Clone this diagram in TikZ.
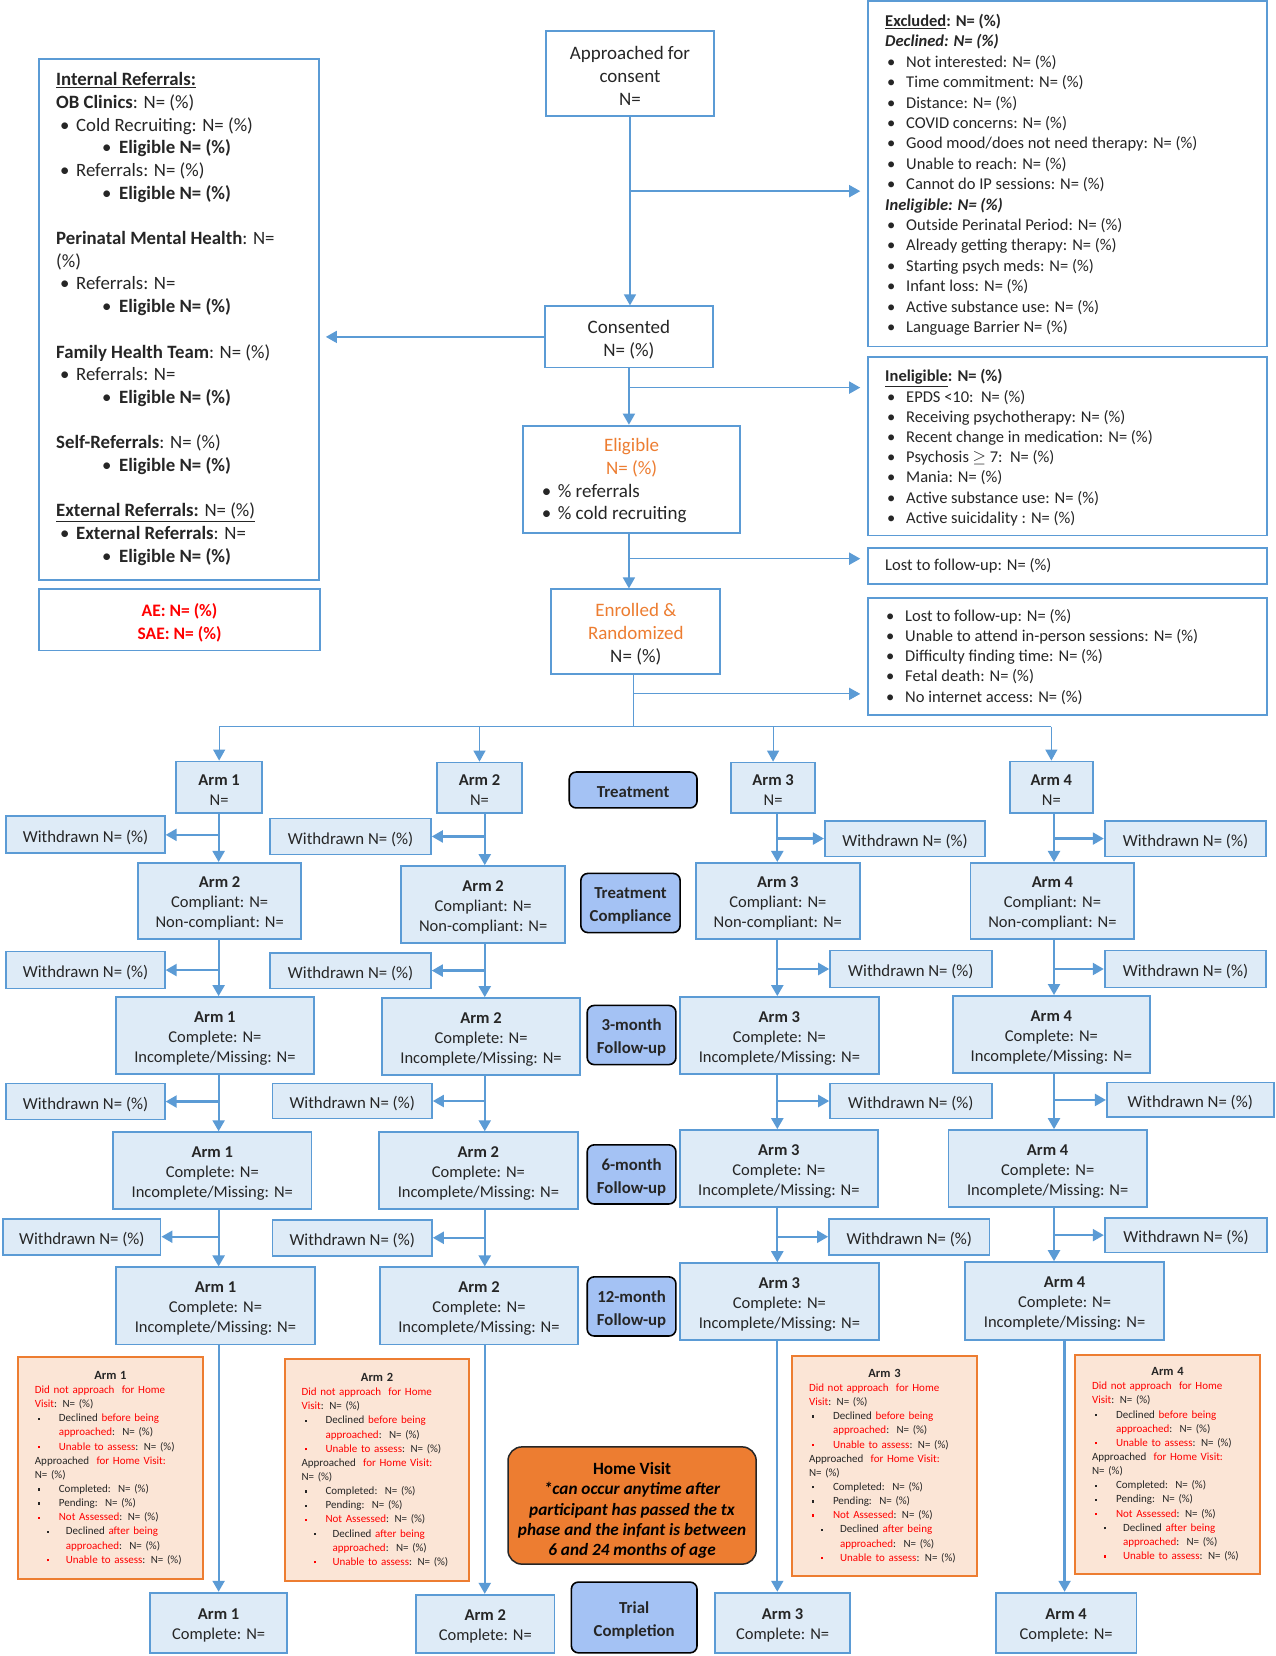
\documentclass[tikz,border=0pt]{standalone}
\usepackage{fontspec}
\setmainfont{Carlito}
\usetikzlibrary{arrows.meta,fit,calc}
\definecolor{bl}{HTML}{5B9BD5}
\definecolor{lbl}{HTML}{DEEBF7}
\definecolor{phase}{HTML}{A4C2F4}
\definecolor{org}{HTML}{ED7D31}
\definecolor{orgfill}{HTML}{FBE5D6}
\definecolor{rd}{HTML}{FF0000}
\definecolor{txt}{HTML}{262626}
\definecolor{hvfill}{HTML}{ED7D31}

\newcommand{\rbul}{\hspace*{2pt}\makebox[19pt][l]{\textbullet}}
\newcommand{\rbulb}{\hspace*{1pt}\makebox[19pt][l]{\textbullet}}
\newcommand{\lbul}{\hspace*{4pt}\makebox[16pt][l]{\textbullet}}
\newcommand{\llbul}{\hspace*{46pt}\makebox[17pt][l]{\textbullet}}
\newcommand{\sq}[1][txt]{\textcolor{#1}{\rule[2pt]{2.3pt}{2.3pt}}}
\newcommand{\hvA}{\hspace*{3pt}\makebox[21pt][l]}
\newcommand{\hvB}{\hspace*{12pt}\makebox[19pt][l]}
\newcommand{\hvcontent}[1]{%
\makebox[151pt][c]{\fontsize{12.5}{14}\selectfont\bfseries #1}\\
\textcolor{rd}{Did not approach\ \ for Home}\\
\textcolor{rd}{Visit}: N= (\%)\\
\hvA{\sq}Declined \textcolor{rd}{before being}\\
\hspace*{24pt}\textcolor{rd}{approached}:\ \ N= (\%)\\
\hvA{\sq[rd]}\textcolor{rd}{Unable to assess}: N= (\%)\\
Approached\ \ \textcolor{rd}{for Home Visit:}\\
N= (\%)\\
\hvA{\sq}Completed:\ \ N= (\%)\\
\hvA{\sq}Pending:\ \ N= (\%)\\
\hvA{\sq[rd]}\textcolor{rd}{Not Assessed}: N= (\%)\\
\hvB{\sq}Declined \textcolor{rd}{after being}\\
\hspace*{31pt}\textcolor{rd}{approached}:\ \ N= (\%)\\
\hvB{\sq[rd]}\textcolor{rd}{Unable to assess}: N= (\%)}

% box drawn by fit, text in a separate node at its centre
\newcommand{\tbox}[4]{%
  \node[#1, fit={#3}] (#2) {};
  \node[#1, draw=none, fill=none] (#2t) at ([yshift=-2.6pt]#2.center) {#4};}

\tikzset{
  box/.style={draw=bl, line width=1.8pt, fill=white, inner sep=0pt},
  armbox/.style={draw=bl, line width=1.8pt, fill=lbl, inner sep=0pt, align=center, text=txt, font=\fontsize{16.5}{20}\selectfont},
  wdbox/.style={armbox, font=\fontsize{16.8}{20}\selectfont},
  phasebox/.style={draw=black, line width=1.6pt, fill=phase, rounded corners=7pt, inner sep=0pt, align=center, text=txt, font=\bfseries\fontsize{16.8}{23}\selectfont},
  hvarm/.style={draw=org, line width=1.8pt, fill=orgfill, inner sep=0pt},
  hvtext/.style={text width=151pt, align=left, inner sep=0pt, text=txt, font=\fontsize{11}{14.15}\selectfont},
  hvbox/.style={draw=black!85, line width=1.5pt, fill=hvfill, rounded corners=14pt, inner sep=0pt, align=center, text=black, font=\fontsize{17.2}{20.2}\selectfont},
  listtext/.style={anchor=west, align=left, inner sep=0pt, text=txt, font=\fontsize{16.5}{20.4}\selectfont},
  maintext/.style={align=center, text=txt, font=\fontsize{19}{23}\selectfont},
  aebox/.style={box, align=center, text=rd, font=\bfseries\fontsize{17.5}{23}\selectfont},
  conn/.style={draw=bl, line width=2.2pt, -{Triangle[length=11pt,width=12pt]}},
  midconn/.style={draw=bl, line width=1.6pt, -{Triangle[length=11pt,width=12pt]}},
  thinconn/.style={draw=bl, line width=1.1pt, -{Triangle[length=11pt,width=12pt]}},
  thinline/.style={draw=bl, line width=1.1pt},
}

\begin{document}
\begin{tikzpicture}[x=1.0563pt,y=-1.0563pt]
\useasboundingbox[fill=white] (0,0) rectangle (1208,1568);

% ---------- top flow ----------
\tbox{box, maintext}{app}{(517,29)(676,110)}{Approached for\\consent\\N=}
\tbox{box, maintext}{cons}{(516,290)(675,348)}{Consented\\N= (\%)}
\node[box, fit={(495,403)(701,505)}] (elig) {};
\node[maintext, text=org, inner sep=0pt] (eligt) at (598,433) {Eligible\\N= (\%)};
\node[listtext, font=\fontsize{19}{22}\selectfont] (eligb) at (509,477) {\lbul\% referrals\\\lbul\% cold recruiting};
\tbox{box, maintext}{enr}{(522,558)(682,638)}{\textcolor{org}{Enrolled \&}\\\textcolor{org}{Randomized}\\N= (\%)}

% ---------- right boxes ----------
\node[box, fit={(822,1)(1200,328)}] (excl) {};
\node[listtext] (exclt) at (838,165.5) {%
\underline{\textbf{Excluded}}\textbf{: N= (\%)}\\
\textbf{\textit{Declined: N= (\%)}}\\
\rbul Not interested: N= (\%)\\
\rbul Time commitment: N= (\%)\\
\rbul Distance: N= (\%)\\
\rbul COVID concerns: N= (\%)\\
\rbul Good mood/does not need therapy: N= (\%)\\
\rbul Unable to reach: N= (\%)\\
\rbul Cannot do IP sessions: N= (\%)\\
\textbf{\textit{Ineligible: N= (\%)}}\\
\rbul Outside Perinatal Period: N= (\%)\\
\rbul Already getting therapy: N= (\%)\\
\rbul Starting psych meds: N= (\%)\\
\rbul Infant loss: N= (\%)\\
\rbul Active substance use: N= (\%)\\
\rbul Language Barrier N= (\%)};

\node[box, fit={(822,338)(1200,507)}] (inel) {};
\node[listtext, font=\fontsize{16.5}{20.2}\selectfont] (inelt) at (838,424) {%
\underline{\textbf{Ineligible}}\textbf{: N= (\%)}\\
\rbul EPDS <10:\ \ N= (\%)\\
\rbul Receiving psychotherapy: N= (\%)\\
\rbul Recent change in medication: N= (\%)\\
\rbul Psychosis $\geq$ 7:\ \ N= (\%)\\
\rbul Mania: N= (\%)\\
\rbul Active substance use: N= (\%)\\
\rbul Active suicidality : N= (\%)};

\node[box, fit={(822,519)(1200,553)}] (lost) {};
\node[listtext] (lostt) at (838,536) {Lost to follow-up: N= (\%)};

\node[box, fit={(822,566)(1200,677)}] (lostr) {};
\node[listtext, font=\fontsize{16.5}{20.1}\selectfont] (lostrt) at (838,622) {%
\rbulb Lost to follow-up: N= (\%)\\
\rbulb Unable to attend in-person sessions: N= (\%)\\
\rbulb Difficulty finding time: N= (\%)\\
\rbulb Fetal death: N= (\%)\\
\rbulb No internet access: N= (\%)};

% ---------- left boxes ----------
\node[box, fit={(37,56)(302,549)}] (intref) {};
\node[listtext, font=\fontsize{18.8}{22.7}\selectfont] (intreft) at (53,302) {%
\underline{\textbf{Internal Referrals:}}\\
\textbf{OB Clinics}: N= (\%)\\
\lbul Cold Recruiting: N= (\%)\\
\llbul\textbf{Eligible N= (\%)}\\
\lbul Referrals: N= (\%)\\
\llbul\textbf{Eligible N= (\%)}\\[22.7pt]
\textbf{Perinatal Mental Health}: N=\\
(\%)\\
\lbul Referrals: N=\\
\llbul\textbf{Eligible N= (\%)}\\[22.7pt]
\textbf{Family Health Team}: N= (\%)\\
\lbul Referrals: N=\\
\llbul\textbf{Eligible N= (\%)}\\[22.7pt]
\textbf{Self-Referrals}: N= (\%)\\
\llbul\textbf{Eligible N= (\%)}\\[22.7pt]
\underline{\textbf{External Referrals:} N= (\%)}\\
\lbul\textbf{External Referrals}: N=\\
\llbul\textbf{Eligible N= (\%)}};

\tbox{aebox}{ae}{(37,558)(303,616)}{AE: N= (\%)\\SAE: N= (\%)}

% ---------- top connectors ----------
\coordinate (b1) at (596,181);
\coordinate (b2) at (596,367);
\coordinate (b3) at (596,529);
\coordinate (b4) at (600,657);
\coordinate (d0) at (600,688);
\draw[midconn] (app.south) -- (app.south |- cons.north);
\draw[midconn, shorten >=7pt] (b1) -- (excl.west |- b1);
\draw[midconn, shorten >=6pt] (cons.west) -- (intref.east |- cons.west);
\draw[midconn] (cons.south) -- (cons.south |- elig.north);
\draw[midconn, shorten >=7pt] (b2) -- (inel.west |- b2);
\draw[midconn] (cons.south |- elig.south) -- (cons.south |- enr.north);
\draw[midconn, shorten >=7pt] (b3) -- (lost.west |- b3);
\draw[thinline] (enr.south -| d0) -- (d0);
\draw[thinconn, shorten >=7pt] (b4) -- (lostr.west |- b4);

% ---------- phase labels ----------
\tbox{phasebox}{ph0}{(539,731)(660,765)}{Treatment}
\tbox{phasebox}{ph1}{(550,827)(644,883)}{Treatment\\Compliance}
\tbox{phasebox}{ph2}{(556,952)(640,1008)}{3-month\\Follow-up}
\tbox{phasebox}{ph3}{(556,1084)(640,1140)}{6-month\\Follow-up}
\tbox{phasebox}{ph4}{(556,1209)(640,1265)}{12-month\\Follow-up}
\tbox{phasebox}{ph5}{(541,1498)(660,1565)}{Trial\\Completion}

\node[hvbox, fit={(481,1370)(716,1481)}] (hv) {};
\node[hvbox, draw=none, fill=none] (hvt) at ([yshift=-5pt]hv.center) {\textbf{Home Visit}\\\textbf{\textit{*can occur anytime after}}\\\textbf{\textit{participant has passed the tx}}\\\textbf{\textit{phase and the infant is between}}\\\textbf{\textit{6 and 24 months of age}}};

% ---------- column 1 ----------
\tbox{armbox}{A10}{(167,721)(248,770)}{\textbf{Arm 1}\\N=}
\tbox{wdbox}{w11}{(6,773)(156,808)}{Withdrawn N= (\%)}
\tbox{armbox}{A11}{(131,817)(285,889)}{\textbf{Arm 2}\\Compliant: N=\\Non-compliant: N=}
\tbox{wdbox}{w12}{(6,901)(156,936)}{Withdrawn N= (\%)}
\tbox{armbox}{A12}{(110,944)(297,1017)}{\textbf{Arm 1}\\Complete: N=\\Incomplete/Missing: N=}
\tbox{wdbox}{w13}{(6,1026)(156,1060)}{Withdrawn N= (\%)}
\tbox{armbox}{A13}{(107,1072)(295,1145)}{\textbf{Arm 1}\\Complete: N=\\Incomplete/Missing: N=}
\tbox{wdbox}{w14}{(3,1154)(152,1188)}{Withdrawn N= (\%)}
\tbox{armbox}{A14}{(110,1200)(298,1273)}{\textbf{Arm 1}\\Complete: N=\\Incomplete/Missing: N=}
\node[hvarm, fit={(17,1285)(192,1495)}] (o1) {};
\node[hvtext] (o1t) at (o1.center) {\hvcontent{Arm 1}};
\tbox{armbox}{A15}{(142,1508)(272,1565)}{\textbf{Arm 1}\\Complete: N=}

% ---------- column 2 ----------
\tbox{armbox}{A20}{(414,722)(494,770)}{\textbf{Arm 2}\\N=}
\tbox{wdbox}{w21}{(256,775)(408,809)}{Withdrawn N= (\%)}
\tbox{armbox}{A21}{(380,820)(535,893)}{\textbf{Arm 2}\\Compliant: N=\\Non-compliant: N=}
\tbox{wdbox}{w22}{(256,902)(408,936)}{Withdrawn N= (\%)}
\tbox{armbox}{A22}{(362,945)(549,1018)}{\textbf{Arm 2}\\Complete: N=\\Incomplete/Missing: N=}
\tbox{wdbox}{w23}{(258,1026)(409,1059)}{Withdrawn N= (\%)}
\tbox{armbox}{A23}{(359,1072)(547,1145)}{\textbf{Arm 2}\\Complete: N=\\Incomplete/Missing: N=}
\tbox{wdbox}{w24}{(258,1155)(409,1189)}{Withdrawn N= (\%)}
\tbox{armbox}{A24}{(360,1200)(547,1273)}{\textbf{Arm 2}\\Complete: N=\\Incomplete/Missing: N=}
\node[hvarm, fit={(270,1287)(444,1497)}] (o2) {};
\node[hvtext] (o2t) at (o2.center) {\hvcontent{Arm 2}};
\tbox{armbox}{A25}{(394,1510)(525,1565)}{\textbf{Arm 2}\\Complete: N=}

% ---------- column 3 ----------
\tbox{armbox}{A30}{(692,722)(772,770)}{\textbf{Arm 3}\\N=}
\tbox{wdbox}{w31}{(781,777)(933,811)}{Withdrawn N= (\%)}
\tbox{armbox}{A31}{(659,817)(814,889)}{\textbf{Arm 3}\\Compliant: N=\\Non-compliant: N=}
\tbox{wdbox}{w32}{(786,900)(939,935)}{Withdrawn N= (\%)}
\tbox{armbox}{A32}{(644,944)(832,1017)}{\textbf{Arm 3}\\Complete: N=\\Incomplete/Missing: N=}
\tbox{wdbox}{w33}{(786,1026)(939,1059)}{Withdrawn N= (\%)}
\tbox{armbox}{A33}{(644,1070)(831,1143)}{\textbf{Arm 3}\\Complete: N=\\Incomplete/Missing: N=}
\tbox{wdbox}{w34}{(785,1154)(937,1188)}{Withdrawn N= (\%)}
\tbox{armbox}{A34}{(644,1196)(832,1269)}{\textbf{Arm 3}\\Complete: N=\\Incomplete/Missing: N=}
\node[hvarm, fit={(750,1284)(925,1492)}] (o3) {};
\node[hvtext] (o3t) at (o3.center) {\hvcontent{Arm 3}};
\tbox{armbox}{A35}{(677,1508)(805,1565)}{\textbf{Arm 3}\\Complete: N=}

% ---------- column 4 ----------
\tbox{armbox}{A40}{(956,721)(1035,770)}{\textbf{Arm 4}\\N=}
\tbox{wdbox}{w41}{(1046,777)(1199,811)}{Withdrawn N= (\%)}
\tbox{armbox}{A41}{(919,817)(1074,889)}{\textbf{Arm 4}\\Compliant: N=\\Non-compliant: N=}
\tbox{wdbox}{w42}{(1046,900)(1199,935)}{Withdrawn N= (\%)}
\tbox{armbox}{A42}{(902,943)(1089,1016)}{\textbf{Arm 4}\\Complete: N=\\Incomplete/Missing: N=}
\tbox{wdbox}{w43}{(1048,1025)(1206,1058)}{Withdrawn N= (\%)}
\tbox{armbox}{A43}{(898,1070)(1086,1143)}{\textbf{Arm 4}\\Complete: N=\\Incomplete/Missing: N=}
\tbox{wdbox}{w44}{(1046,1153)(1200,1186)}{Withdrawn N= (\%)}
\tbox{armbox}{A44}{(914,1195)(1102,1269)}{\textbf{Arm 4}\\Complete: N=\\Incomplete/Missing: N=}
\node[hvarm, fit={(1018,1283)(1193,1490)}] (o4) {};
\node[hvtext] (o4t) at (o4.center) {\hvcontent{Arm 4}};
\tbox{armbox}{A45}{(943,1508)(1076,1565)}{\textbf{Arm 4}\\Complete: N=}

% ---------- distribution ----------
\coordinate (x1) at (207,0);
\coordinate (x2) at (459,0);
\coordinate (x3) at (736,0);
\coordinate (x4) at (998,0);
\coordinate (xf4) at (1008,0);
\draw[thinline] (d0 -| A10.north) -- (d0 -| A40.north);
\foreach \c in {1,2,3,4}{
  \draw[thinconn] (d0 -| A\c0.north) -- (A\c0.north);
}

% ---------- column connectors ----------
\foreach \c in {1,2,3,4}{
  \foreach \r in {0,1,2,3}{
    \pgfmathtruncatemacro{\n}{\r+1}
    \draw[conn] (A\c\r.south -| x\c) -- (A\c\n.north -| x\c);
  }
}
\draw[conn] (A14.south -| x1) -- (A15.north -| x1);
\draw[conn] (A24.south -| x2) -- (A25.north -| x2);
\draw[conn] (A34.south -| x3) -- (A35.north -| x3);
\draw[conn] (A44.south -| xf4) -- (A45.north -| xf4);

\foreach \r in {1,2,3,4}{
  \draw[conn] (w1\r.east -| x1) -- (w1\r.east);
  \draw[conn] (w2\r.east -| x2) -- (w2\r.east);
  \draw[conn] (w3\r.west -| x3) -- (w3\r.west);
  \draw[conn] (w4\r.west -| x4) -- (w4\r.west);
}
\end{tikzpicture}
\end{document}
